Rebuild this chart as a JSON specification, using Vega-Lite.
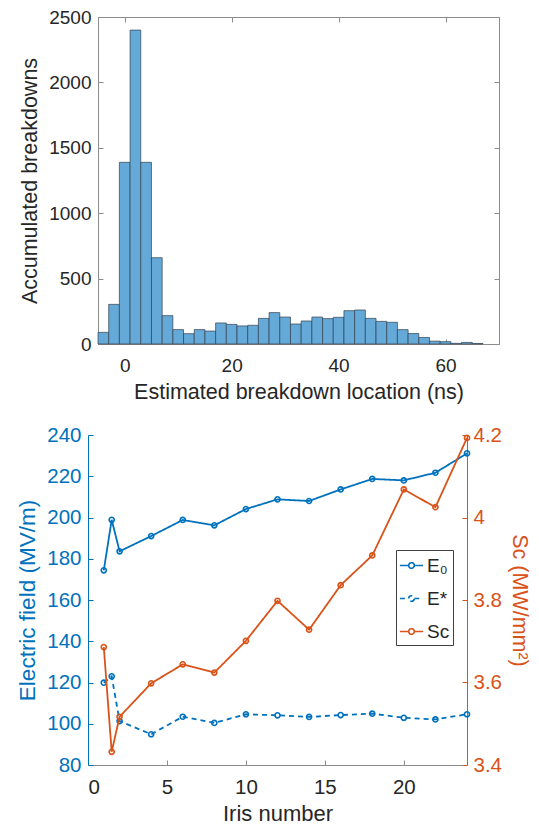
{
  "$schema": "https://vega.github.io/schema/vega-lite/v6.json",
  "padding": {"left": 16, "top": 8, "right": 0, "bottom": 0},
  "spacing": 22,
  "vconcat": [
    {
      "width": 401,
      "height": 327,
      "data": {
        "values": [
          {"start": -5, "end": -3, "count": 89},
          {"start": -3, "end": -1, "count": 303},
          {"start": -1, "end": 1, "count": 1389},
          {"start": 1, "end": 3, "count": 2400},
          {"start": 3, "end": 5, "count": 1389},
          {"start": 5, "end": 7, "count": 660},
          {"start": 7, "end": 9, "count": 217},
          {"start": 9, "end": 11, "count": 110},
          {"start": 11, "end": 13, "count": 79},
          {"start": 13, "end": 15, "count": 110},
          {"start": 15, "end": 17, "count": 99},
          {"start": 17, "end": 19, "count": 161},
          {"start": 19, "end": 21, "count": 150},
          {"start": 21, "end": 23, "count": 138},
          {"start": 23, "end": 25, "count": 143},
          {"start": 25, "end": 27, "count": 196},
          {"start": 27, "end": 29, "count": 240},
          {"start": 29, "end": 31, "count": 206},
          {"start": 31, "end": 33, "count": 153},
          {"start": 33, "end": 35, "count": 176},
          {"start": 35, "end": 37, "count": 206},
          {"start": 37, "end": 39, "count": 194},
          {"start": 39, "end": 41, "count": 204},
          {"start": 41, "end": 43, "count": 255},
          {"start": 43, "end": 45, "count": 260},
          {"start": 45, "end": 47, "count": 196},
          {"start": 47, "end": 49, "count": 173},
          {"start": 49, "end": 51, "count": 166},
          {"start": 51, "end": 53, "count": 110},
          {"start": 53, "end": 55, "count": 80},
          {"start": 55, "end": 57, "count": 50},
          {"start": 57, "end": 59, "count": 22},
          {"start": 59, "end": 61, "count": 18},
          {"start": 61, "end": 63, "count": 5},
          {"start": 63, "end": 65, "count": 12},
          {"start": 65, "end": 67, "count": 4}
        ]
      },
      "layer": [
        {
          "mark": {"type": "bar", "fill": "#64A9D8", "stroke": "#34414d", "strokeWidth": 0.7},
          "encoding": {
            "x": {
              "field": "start", "type": "quantitative",
              "scale": {"domain": [-5, 70], "nice": false, "zero": false},
              "axis": {"orient": "bottom", "values": [0, 20, 40, 60], "title": "Estimated breakdown location (ns)", "labelPadding": 17.5, "titlePadding": 6}
            },
            "x2": {"field": "end"},
            "y": {
              "field": "count", "type": "quantitative",
              "scale": {"domain": [0, 2500], "nice": false},
              "axis": {"orient": "left", "values": [0, 500, 1000, 1500, 2000, 2500], "format": "d", "title": "Accumulated breakdowns", "labelPadding": 12, "titlePadding": 7}
            },
            "y2": {"datum": 0}
          }
        },
        {
          "mark": {"type": "bar", "opacity": 0},
          "encoding": {
            "x": {"field": "start", "type": "quantitative", "axis": {"orient": "top", "values": [0, 20, 40, 60], "labels": false, "title": null}},
            "x2": {"field": "end"},
            "y": {"field": "count", "type": "quantitative", "axis": {"orient": "right", "values": [0, 500, 1000, 1500, 2000, 2500], "labels": false, "title": null}},
            "y2": {"datum": 0}
          }
        }
      ],
      "resolve": {"axis": {"x": "independent", "y": "independent"}}
    },
    {
      "width": 369,
      "height": 330,
      "data": {
        "values": [
          {"series": "E₀", "iris": 1, "value": 174.4},
          {"series": "E₀", "iris": 1.5, "value": 198.9},
          {"series": "E₀", "iris": 2, "value": 183.6},
          {"series": "E₀", "iris": 4, "value": 191.0},
          {"series": "E₀", "iris": 6, "value": 198.8},
          {"series": "E₀", "iris": 8, "value": 196.2},
          {"series": "E₀", "iris": 10, "value": 204.1},
          {"series": "E₀", "iris": 12, "value": 208.8},
          {"series": "E₀", "iris": 14, "value": 208.0},
          {"series": "E₀", "iris": 16, "value": 213.6},
          {"series": "E₀", "iris": 18, "value": 218.7},
          {"series": "E₀", "iris": 20, "value": 218.0},
          {"series": "E₀", "iris": 22, "value": 221.7},
          {"series": "E₀", "iris": 24, "value": 231.1},
          {"series": "E*", "iris": 1, "value": 119.9},
          {"series": "E*", "iris": 1.5, "value": 123.0},
          {"series": "E*", "iris": 2, "value": 101.3},
          {"series": "E*", "iris": 4, "value": 94.9},
          {"series": "E*", "iris": 6, "value": 103.4},
          {"series": "E*", "iris": 8, "value": 100.4},
          {"series": "E*", "iris": 10, "value": 104.6},
          {"series": "E*", "iris": 12, "value": 104.1},
          {"series": "E*", "iris": 14, "value": 103.3},
          {"series": "E*", "iris": 16, "value": 104.2},
          {"series": "E*", "iris": 18, "value": 104.9},
          {"series": "E*", "iris": 20, "value": 102.9},
          {"series": "E*", "iris": 22, "value": 102.1},
          {"series": "E*", "iris": 24, "value": 104.6},
          {"series": "Sc", "iris": 1, "value": 3.686},
          {"series": "Sc", "iris": 1.5, "value": 3.432},
          {"series": "Sc", "iris": 2, "value": 3.517},
          {"series": "Sc", "iris": 4, "value": 3.598},
          {"series": "Sc", "iris": 6, "value": 3.644},
          {"series": "Sc", "iris": 8, "value": 3.624},
          {"series": "Sc", "iris": 10, "value": 3.701},
          {"series": "Sc", "iris": 12, "value": 3.798},
          {"series": "Sc", "iris": 14, "value": 3.728},
          {"series": "Sc", "iris": 16, "value": 3.836},
          {"series": "Sc", "iris": 18, "value": 3.908},
          {"series": "Sc", "iris": 20, "value": 4.068},
          {"series": "Sc", "iris": 22, "value": 4.025},
          {"series": "Sc", "iris": 24, "value": 4.193}
        ]
      },
      "layer": [
        {
          "transform": [{"filter": "datum.series !== 'Sc'"}],
          "layer": [
            {
              "mark": {"type": "line", "strokeWidth": 1.8},
              "encoding": {
                "x": {
                  "field": "iris", "type": "quantitative",
                  "scale": {"domain": [0, 24], "nice": false, "range": [-10, 369]},
                  "axis": {"values": [0, 5, 10, 15, 20], "title": "Iris number", "labelPadding": 17.5, "titlePadding": 5, "labelFontSize": 20.5, "titleFontSize": 22}
                },
                "y": {
                  "field": "value", "type": "quantitative",
                  "scale": {"domain": [80, 240], "nice": false, "zero": false},
                  "axis": {"orient": "left", "offset": 10, "values": [80, 100, 120, 140, 160, 180, 200, 220, 240], "title": "Electric field (MV/m)", "labelFontSize": 20.5, "titleFontSize": 22.5, "labelPadding": 12, "titlePadding": 7, "domainColor": "#0072BD", "tickColor": "#0072BD", "labelColor": "#0072BD", "titleColor": "#0072BD"}
                },
                "color": {
                  "field": "series", "type": "nominal",
                  "scale": {"domain": ["E₀", "E*", "Sc"], "range": ["#0072BD", "#0072BD", "#D95319"]},
                  "legend": {"title": null}
                },
                "strokeDash": {
                  "field": "series", "type": "nominal",
                  "scale": {"domain": ["E₀", "E*", "Sc"], "range": [[1, 0], [5, 4], [1, 0]]},
                  "legend": {"title": null}
                },
                "detail": {"field": "series"}
              }
            },
            {
              "mark": {"type": "point", "filled": false, "color": "#0072BD", "size": 26, "strokeWidth": 1.6, "opacity": 1},
              "encoding": {
                "x": {"field": "iris", "type": "quantitative"},
                "y": {"field": "value", "type": "quantitative"}
              }
            }
          ]
        },
        {
          "transform": [{"filter": "datum.series === 'Sc'"}],
          "layer": [
            {
              "mark": {"type": "line", "strokeWidth": 1.8},
              "encoding": {
                "x": {"field": "iris", "type": "quantitative"},
                "y": {
                  "field": "value", "type": "quantitative",
                  "scale": {"domain": [3.4, 4.2], "nice": false, "zero": false},
                  "axis": {"orient": "right", "values": [3.4, 3.6, 3.8, 4, 4.2], "format": "~g", "title": "Sc (MW/mm²)", "labelFontSize": 20.5, "titleFontSize": 21.5, "labelPadding": 11, "titlePadding": 6, "domainColor": "#D95319", "tickColor": "#D95319", "labelColor": "#D95319", "titleColor": "#D95319"}
                },
                "color": {"field": "series", "type": "nominal", "legend": {"title": null}},
                "strokeDash": {"field": "series", "type": "nominal", "legend": {"title": null}}
              }
            },
            {
              "mark": {"type": "point", "filled": false, "color": "#D95319", "size": 26, "strokeWidth": 1.6, "opacity": 1},
              "encoding": {
                "x": {"field": "iris", "type": "quantitative"},
                "y": {"field": "value", "type": "quantitative"}
              }
            }
          ]
        }
      ],
      "resolve": {"scale": {"y": "independent"}}
    }
  ],
  "config": {
    "font": "Liberation Sans",
    "view": {"stroke": null},
    "axis": {
      "grid": false,
      "tickSize": -5,
      "tickWidth": 1,
      "domainWidth": 1,
      "labelFont": "Liberation Sans",
      "titleFont": "Liberation Sans",
      "titleFontWeight": "normal",
      "labelFontSize": 19,
      "titleFontSize": 21.5,
      "labelColor": "#262626",
      "titleColor": "#262626",
      "domainColor": "#8c8c8c",
      "tickColor": "#8c8c8c"
    },
    "legend": {
      "orient": "none",
      "legendX": 298,
      "legendY": 533,
      "symbolType": "M-1,0L-0.24,0M0.24,0L1,0M-0.24,0A0.24,0.24 0 1,1 0.24,0A0.24,0.24 0 1,1 -0.24,0",
      "symbolSize": 540,
      "symbolStrokeWidth": 1.6,
      "symbolFillColor": "white",
      "labelFont": "Liberation Sans",
      "labelFontSize": 19,
      "labelColor": "#262626",
      "labelOffset": 3,
      "rowPadding": 10,
      "padding": 3,
      "strokeColor": "#404040",
      "fillColor": "white"
    }
  }
}
